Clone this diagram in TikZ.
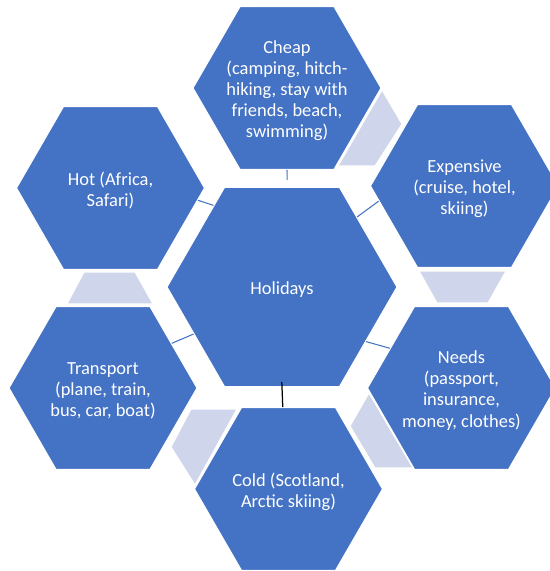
\documentclass[tikz,border=0pt]{standalone}
\usepackage{fontspec}
\setmainfont{Carlito}
\usetikzlibrary{shapes.geometric}
\definecolor{hexblue}{HTML}{4472C4}
\definecolor{arrowgrey}{HTML}{CFD5EA}
\tikzset{
  hex/.style={shape=regular polygon, regular polygon sides=6, minimum size=3.76cm,
    inner sep=0pt, fill=hexblue, draw=white, line width=0.6pt},
  bighex/.style={hex, minimum size=4.6cm},
  lbl/.style={text=white, align=center, yshift=-0.05cm,
    font=\fontsize{10.5}{12}\selectfont},
  conn/.style={draw=hexblue, line width=0.6pt},
  arr/.style={fill=arrowgrey, draw=white, line width=0.6pt}
}
\begin{document}
\begin{tikzpicture}[x=0.02cm,y=-0.02cm]
                \useasboundingbox (0,0) rectangle (550,571);
                \clip (0,0) rectangle (550,571);

                \node[bighex] (hol) at (282,287) {};
                \node[hex] (cheap) at (287,88) {};
                \node[hex] (exp) at (464.5,186) {};
                \node[hex] (needs) at (461.5,388) {};
                \node[hex] (cold) at (288.5,489) {};
                \node[hex] (trans) at (103,388) {};
                \node[hex] (hot) at (110.5,188) {};

                \node[lbl] (hol-t) at (hol) {Holidays};
                \node[lbl] (cheap-t) at (cheap) {Cheap\\(camping, hitch-\\hiking, stay with\\friends, beach,\\swimming)};
                \node[lbl] (exp-t) at (exp) {Expensive\\(cruise, hotel,\\skiing)};
                \node[lbl] (needs-t) at (needs) {Needs\\(passport,\\insurance,\\money, clothes)};
                \node[lbl] (cold-t) at (cold) {Cold (Scotland,\\Arctic skiing)};
                \node[lbl] (trans-t) at (trans) {Transport\\(plane, train,\\bus, car, boat)};
                \node[lbl] (hot-t) at (hot) {Hot (Africa,\\Safari)};

                \filldraw[arr] (382,90) -- (402,124) -- (375,166) -- (338,166) -- cycle;
                \filldraw[arr] (419,271) -- (506,271) -- (488,303) -- (437,303) -- cycle;
                \filldraw[arr] (369,393) -- (413,468) -- (375,468) -- (350,426) -- cycle;
                \filldraw[arr] (191,409) -- (237,409) -- (195,485) -- (171,447) -- cycle;
                \filldraw[arr] (84,272) -- (135,272) -- (153,304) -- (67,304) -- cycle;

                \draw[conn, shorten >=4] (cheap.south) -- (hol.87.5);
                \draw[conn] (exp.190) -- (hol.43);
                \draw[conn] (needs.151) -- (hol.-33);
                \draw[conn] (trans.33) -- (hol.208);
                \draw[conn] (hot.-8.5) -- (hol.130);
                \draw[black, line width=0.7pt, shorten <=-3] (hol.south) -- (cold.94);
            \end{tikzpicture}
\end{document}
